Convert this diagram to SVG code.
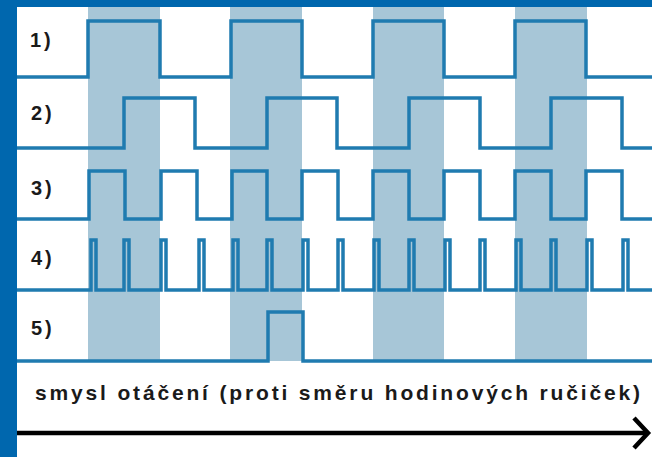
<svg xmlns="http://www.w3.org/2000/svg" width="652" height="457" viewBox="0 0 652 457">
<defs>
<style>
.band{fill:#a7c6d7}
.sig{fill:none;stroke:#1f7bb0;stroke-width:3.5;stroke-linejoin:miter;stroke-linecap:butt}
.lbl{font-family:"Liberation Sans",Arial,sans-serif;font-weight:bold;font-size:20px;fill:#1a1a1a;letter-spacing:3px}
.cap{font-family:"Liberation Sans",Arial,sans-serif;font-weight:bold;font-size:21px;fill:#1a1a1a}
.arr{fill:none;stroke:#000;stroke-width:4.5}
</style>
</defs>
<rect x="0" y="0" width="652" height="457" fill="#ffffff"/>
<rect x="0" y="0" width="17" height="457" fill="#0067ae"/>
<rect x="0" y="0" width="652" height="7" fill="#0067ae"/>
<g id="shading">
<rect class="band" x="88" y="7" width="72" height="354"/>
<rect class="band" x="230" y="7" width="72" height="354"/>
<rect class="band" x="373" y="7" width="71" height="354"/>
<rect class="band" x="515" y="7" width="72" height="354"/>
</g>
<g id="signal1">
<path class="sig" d="M17 77 H88 V21 H160 V77 H231 V21 H302 V77 H373 V21 H444 V77 H515 V21 H586 V77 H652"/>
<text class="lbl" x="30" y="47">1)</text>
</g>
<g id="signal2">
<path class="sig" d="M17 148 H124 V98 H195 V148 H267 V98 H337 V148 H409 V98 H480 V148 H551 V98 H622 V148 H652"/>
<text class="lbl" x="31" y="120">2)</text>
</g>
<g id="signal3">
<path class="sig" d="M17 219 H89 V171 H125 V219 H161 V171 H197 V219 H232 V171 H267 V219 H302 V171 H338 V219 H373 V171 H409 V219 H444 V171 H480 V219 H515 V171 H551 V219 H586 V171 H622 V219 H652"/>
<text class="lbl" x="31" y="195">3)</text>
</g>
<g id="signal4">
<path class="sig" d="M17 290 H91 V240 H96 V290 H124 V240 H129 V290 H161 V240 H166 V290 H199 V240 H204 V290 H233 V240 H238 V290 H267 V240 H272 V290 H303 V240 H308 V290 H338 V240 H343 V290 H374 V240 H379 V290 H409 V240 H414 V290 H445 V240 H450 V290 H480 V240 H485 V290 H516 V240 H521 V290 H551 V240 H556 V290 H587 V240 H592 V290 H623 V240 H628 V290 H652"/>
<text class="lbl" x="31" y="265">4)</text>
</g>
<g id="signal5">
<path class="sig" d="M17 361 H268 V312 H303 V361 H652"/>
<text class="lbl" x="31" y="335">5)</text>
</g>
<g id="connectors">
<text class="cap" x="35" y="400" textLength="605" lengthAdjust="spacing">smysl otáčení (proti směru hodinových ručiček)</text>
<line class="arr" x1="17" y1="433" x2="647" y2="433"/>
<polyline class="arr" points="634,418 648,433 634,448"/>
</g>
</svg>
